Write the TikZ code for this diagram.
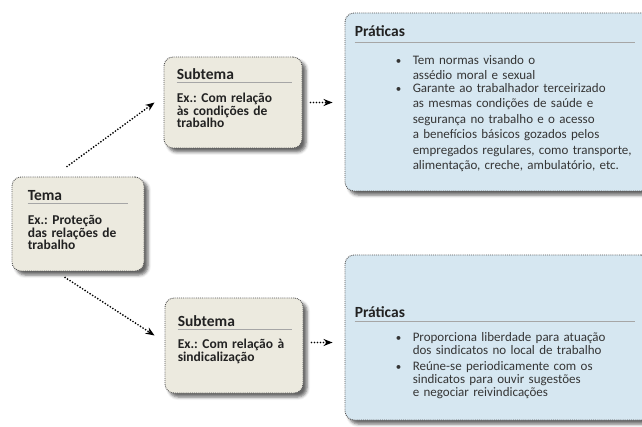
\documentclass[tikz,border=0pt]{standalone}
\usepackage{fontspec}
\setmainfont{Carlito}
\frenchspacing
\usetikzlibrary{positioning,arrows.meta,shadows.blur}
\definecolor{bege}{HTML}{ECEADF}
\definecolor{azul}{HTML}{D6E7F1}
\definecolor{borda}{HTML}{555555}
\definecolor{escuro}{HTML}{222222}
\definecolor{cinza}{HTML}{353535}
\begin{document}
\begin{tikzpicture}[x=1pt, y=-1pt,
    caixa/.style={draw=borda, densely dotted, line width=0.9pt, rounded corners=9pt, inner sep=0pt,
      blur shadow={shadow xshift=4pt, shadow yshift=-4pt, shadow blur radius=3pt, shadow opacity=60}},
    tema/.style={caixa, fill=bege},
    pratica/.style={caixa, fill=azul},
    titulo/.style={anchor=base west, inner sep=0pt, text=escuro, font=\bfseries\fontsize{15.5}{16}\selectfont},
    exemplo/.style={anchor=base west, inner sep=0pt, text=escuro, text width=124pt, align=left,
      font=\bfseries\fontsize{13.5}{12.7}\selectfont},
    item/.style={anchor=base west, inner sep=0pt, text=cinza, text width=240pt, align=left},
    marcador/.style={anchor=base, inner sep=0pt, text=cinza, font=\fontsize{11}{12}\selectfont},
    regua/.style={draw=gray!70, line width=0.5pt},
    seta/.style={line width=1.9pt, line cap=round, dash pattern=on 0pt off 3pt, -{Stealth[length=9pt,width=7pt]}}]
  \useasboundingbox (0,0) rectangle (642,427);
  % caixas
  \node[tema, minimum width=132pt, minimum height=94pt] (tema) at (78,224) {};
  \node[tema, minimum width=138pt, minimum height=91pt] (sub1) at (233,102.5) {};
  \node[tema, minimum width=138pt, minimum height=95pt] (sub2) at (234,345.5) {};
  \node[pratica, minimum width=305pt, minimum height=178pt] (prat1) at (497.5,102) {};
  \node[pratica, minimum width=305pt, minimum height=165pt] (prat2) at (497.5,337.5) {};
  % tema
  \node[titulo] (tituloTema) at ([shift={(16,24)}]tema.north west) {Tema};
  \draw[regua] ([shift={(0,3)}]tituloTema.base west) -- ++(100,0);
  \node[exemplo] (exTema) at ([shift={(16,48)}]tema.north west) {Ex.: Proteção\\das relações de\\trabalho};
  % subtemas
  \node[titulo] (tituloSub1) at ([shift={(13,23)}]sub1.north west) {Subtema};
  \draw[regua] ([shift={(0,3)}]tituloSub1.base west) -- ++(115,0);
  \node[exemplo] (exSub1) at ([shift={(13,46)}]sub1.north west) {Ex.: Com relação\\às condições de\\trabalho};
  \node[titulo] (tituloSub2) at ([shift={(13,29)}]sub2.north west) {Subtema};
  \draw[regua] ([shift={(0,3)}]tituloSub2.base west) -- ++(114,0);
  \node[exemplo] (exSub2) at ([shift={(13,51)}]sub2.north west) {Ex.: Com relação à\\sindicalização};
  % praticas
  \node[titulo] (tituloPrat1) at ([shift={(10,24)}]prat1.north west) {Práticas};
  \draw[regua] ([shift={(0,6)}]tituloPrat1.base west) -- ++(280,0);
  \node[item, font=\fontsize{13}{14.5}\selectfont] (item1a) at ([shift={(68,52)}]prat1.north west)
    {Tem normas visando o\\assédio moral e sexual};
  \node[item, font=\fontsize{13}{15.4}\selectfont] (item1b) at ([shift={(68,80)}]prat1.north west)
    {Garante ao trabalhador terceirizado\\as mesmas condições de saúde e\\segurança no trabalho e o acesso\\
     a benefícios básicos gozados pelos\\empregados regulares, como transporte,\\alimentação, creche, ambulatório, etc.};
  \node[titulo] (tituloPrat2) at ([shift={(10,63)}]prat2.north west) {Práticas};
  \draw[regua] ([shift={(0,4)}]tituloPrat2.base west) -- ++(280,0);
  \node[item, font=\fontsize{13}{13}\selectfont] (item2a) at ([shift={(68,87)}]prat2.north west)
    {Proporciona liberdade para atuação\\dos sindicatos no local de trabalho};
  \node[item, font=\fontsize{13}{12.8}\selectfont] (item2b) at ([shift={(68,116)}]prat2.north west)
    {Reúne-se periodicamente com os\\sindicatos para ouvir sugestões\\e negociar reivindicações};
  \foreach \i in {item1a,item1b,item2a,item2b}
    \node[marcador] at ([xshift=-14pt]\i.base west) {\textbullet};
  % setas
  \draw[seta] ([shift={(-11,-10)}]tema.north) -- ([shift={(-9,0)}]sub1.west);
  \draw[seta] ([shift={(-13,6)}]tema.south) -- ([shift={(-10,-10)}]sub2.west);
  \draw[seta, shorten <=8pt, shorten >=12pt] (sub1.east) -- (sub1.east -| prat1.west);
  \coordinate (saida2) at ([yshift=3pt]sub2.east);
  \draw[seta, shorten <=8pt, shorten >=12pt] (saida2) -- (saida2 -| prat2.west);
\end{tikzpicture}
\end{document}
